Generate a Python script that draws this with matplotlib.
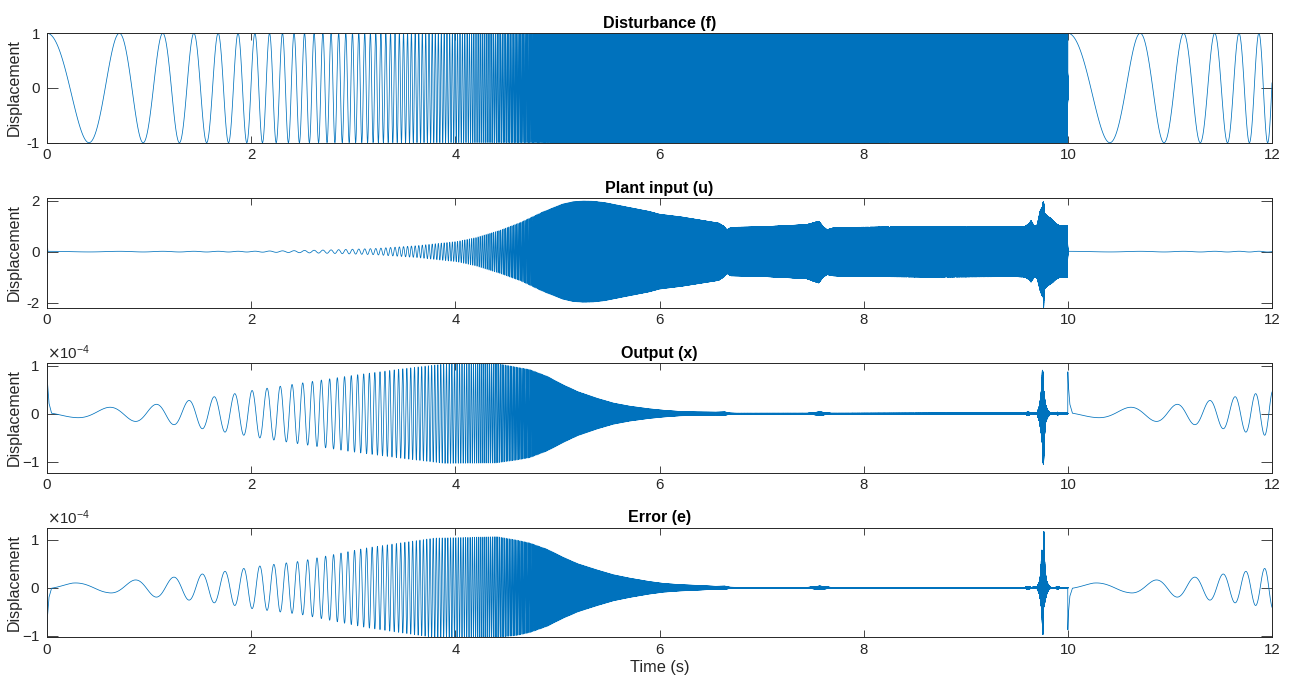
import numpy as np
import matplotlib
matplotlib.use("Agg")
import matplotlib.pyplot as plt
from matplotlib.ticker import ScalarFormatter

plt.rcParams["agg.path.chunksize"] = 20000
plt.rcParams["path.simplify"] = False
plt.rcParams["font.family"] = ["Liberation Sans", "DejaVu Sans"]
plt.rcParams["axes.unicode_minus"] = False

# log sine sweep used as the disturbance (restarts every 10 s)
fs = 20000
t_end = 12.0
sweep_period = 10.0
f_start, f_stop = 1.0, 1.0e4

titles = ["Disturbance (f)", "Plant input (u)", "Output (x)", "Error (e)"]

# plant input envelope (upper / lower magnitude), time within sweep
u_knot_t = [0.0, 0.02, 2.0, 2.4, 2.81, 3.21, 3.62, 4.02, 4.2, 4.44, 4.64, 4.85, 5.05, 5.15,
            5.25, 5.35, 5.46, 5.66, 5.9, 6.0, 6.22, 6.58, 6.63, 6.66, 6.7, 7.03, 7.44, 7.52,
            7.56, 7.6, 7.64, 7.7, 7.84, 8.66, 9.48, 9.58, 9.62, 9.64, 9.67, 9.7, 9.73, 9.755,
            9.763, 9.767, 9.775, 9.8, 9.84, 9.88, 9.92, 9.998, 9.9999]
u_hi = [0.012, 0.012, 0.015, 0.035, 0.07, 0.12, 0.23, 0.4, 0.55, 0.84, 1.15, 1.55, 1.87, 1.96,
        1.99, 1.98, 1.93, 1.77, 1.58, 1.47, 1.36, 1.12, 1.0, 0.86, 0.95, 0.98, 1.06, 1.15,
        1.2, 1.0, 0.86, 0.93, 0.95, 0.99, 0.97, 0.99, 1.1, 1.22, 1.0, 1.05, 1.62, 1.79,
        2.1, 1.6, 1.5, 1.4, 1.29, 1.11, 1.02, 1.02, 0.012]
u_lo = [0.012, 0.012, 0.015, 0.035, 0.07, 0.12, 0.23, 0.4, 0.56, 0.86, 1.15, 1.55, 1.87, 1.96,
        1.99, 1.98, 1.93, 1.77, 1.58, 1.47, 1.36, 1.13, 1.0, 0.86, 0.95, 0.98, 1.06, 1.18,
        1.23, 1.02, 0.9, 0.95, 0.97, 1.0, 0.98, 1.0, 1.1, 1.2, 1.0, 1.05, 1.55, 1.8,
        2.2, 1.6, 1.45, 1.35, 1.25, 1.1, 1.02, 1.02, 0.012]
u_phase = 0.0
u_mid_t = [0.0, 0.002, 0.004, 0.008]
u_mid_v = [1.0, -0.5, 0.3, 0.0]

# output envelope, units of 1e-4
x_knot_t = [0.0, 0.05, 0.26, 0.59, 0.85, 1.05, 1.24, 1.41, 1.63, 1.85, 2.0, 2.5, 3.0, 3.5,
            3.9, 4.4, 4.6, 4.73, 4.9, 5.06, 5.2, 5.39, 5.55, 5.71, 5.9, 6.04, 6.2, 6.36,
            6.55, 6.64, 6.69, 6.75, 7.45, 7.57, 7.68, 9.58, 9.6, 9.62, 9.64, 9.7, 9.72,
            9.735, 9.745, 9.752, 9.76, 9.768, 9.78, 9.8, 9.83, 9.88, 9.9, 9.92, 9.9999]
x_hi = [0.03, 0.06, 0.08, 0.13, 0.16, 0.19, 0.23, 0.28, 0.35, 0.42, 0.48, 0.64, 0.8, 0.94,
        1.04, 1.05, 0.97, 0.92, 0.78, 0.6, 0.46, 0.32, 0.22, 0.155, 0.1, 0.07, 0.045, 0.035,
        0.03, 0.035, 0.012, 0.008, 0.008, 0.035, 0.008, 0.008, 0.03, 0.03, 0.008, 0.02, 0.15,
        0.35, 0.6, 1.0, 0.6, 0.4, 0.2, 0.08, 0.01, 0.008, 0.03, 0.008, 0.008]
x_lo = [0.03, 0.06, 0.08, 0.13, 0.16, 0.19, 0.23, 0.28, 0.35, 0.42, 0.48, 0.64, 0.8, 0.94,
        1.04, 1.03, 0.97, 0.92, 0.78, 0.6, 0.46, 0.32, 0.22, 0.155, 0.1, 0.07, 0.045, 0.035,
        0.03, 0.035, 0.012, 0.008, 0.008, 0.035, 0.008, 0.008, 0.03, 0.03, 0.008, 0.02, 0.15,
        0.35, 0.5, 0.7, 1.23, 0.6, 0.2, 0.08, 0.01, 0.008, 0.03, 0.008, 0.008]
x_phase = 0.18
x_mid_t = [0.0, 0.006, 0.02, 0.045, 9.999, 10.0, 10.006, 10.02, 10.045]
x_mid_v = [0.92, 0.6, 0.2, 0.0, 0.0, 0.86, 0.55, 0.18, 0.0]

# error envelope, units of 1e-4
e_knot_t = [0.0, 0.05, 0.25, 0.59, 0.85, 1.05, 1.24, 1.41, 1.63, 1.85, 2.0, 2.48, 2.81, 3.14,
            3.46, 3.79, 4.41, 4.6, 4.73, 4.9, 5.06, 5.2, 5.39, 5.55, 5.71, 5.9, 6.04, 6.2,
            6.36, 6.55, 6.64, 6.69, 6.75, 7.45, 7.57, 7.68, 9.58, 9.6, 9.62, 9.64, 9.7, 9.72,
            9.735, 9.745, 9.755, 9.765, 9.775, 9.79, 9.81, 9.83, 9.88, 9.9, 9.92, 9.9999]
e_hi = [0.03, 0.06, 0.1, 0.1, 0.16, 0.19, 0.22, 0.26, 0.31, 0.37, 0.43, 0.55, 0.69, 0.83,
        0.93, 1.03, 1.06, 0.99, 0.93, 0.8, 0.63, 0.5, 0.37, 0.27, 0.2, 0.13, 0.09, 0.065,
        0.05, 0.03, 0.035, 0.012, 0.008, 0.008, 0.035, 0.008, 0.008, 0.03, 0.03, 0.008, 0.02,
        0.12, 0.3, 0.8, 0.6, 1.24, 0.4, 0.15, 0.05, 0.01, 0.008, 0.03, 0.008, 0.008]
e_lo = [0.03, 0.06, 0.1, 0.1, 0.16, 0.19, 0.22, 0.26, 0.31, 0.37, 0.43, 0.55, 0.69, 0.83,
        0.93, 1.03, 1.03, 0.99, 0.93, 0.8, 0.63, 0.5, 0.37, 0.27, 0.2, 0.13, 0.09, 0.065,
        0.05, 0.03, 0.035, 0.012, 0.008, 0.008, 0.035, 0.008, 0.008, 0.03, 0.03, 0.008, 0.02,
        0.12, 0.3, 0.5, 0.98, 0.4, 0.3, 0.15, 0.05, 0.01, 0.008, 0.03, 0.008, 0.008]
e_phase = 0.68
e_mid_t = [0.0, 0.006, 0.02, 0.045, 9.999, 10.0, 10.006, 10.02, 10.045]
e_mid_v = [-0.89, -0.55, -0.18, 0.0, 0.0, -0.86, -0.5, -0.16, 0.0]

y_limits = [(-1.0, 1.0), (-2.2, 2.1), (-1.23e-4, 1.055e-4), (-1.03e-4, 1.24e-4)]
y_ticks = [[-1, 0, 1], [-2, 0, 2], [-1e-4, 0, 1e-4], [-1e-4, 0, 1e-4]]
x_ticks = [0, 2, 4, 6, 8, 10, 12]

# --- build the time series ---
t = np.arange(0, int(round(t_end * fs)) + 1) / fs
tau = np.mod(t, sweep_period)
k = np.log(f_stop / f_start) / sweep_period
phase = f_start * (np.exp(k * tau) - 1) / k


def band(knot_t, hi, lo, offset, mid_t, mid_v, scale=1.0):
    hi_i = np.interp(tau, knot_t, hi)
    lo_i = np.interp(tau, knot_t, lo)
    centre = (hi_i - lo_i) / 2 + np.interp(t, mid_t, mid_v)
    return scale * (centre + (hi_i + lo_i) / 2 * np.cos(2 * np.pi * (phase + offset)))


f_sig = np.cos(2 * np.pi * phase)
u_sig = band(u_knot_t, u_hi, u_lo, u_phase, u_mid_t, u_mid_v)
x_sig = band(x_knot_t, x_hi, x_lo, x_phase, x_mid_t, x_mid_v, 1e-4)
e_sig = band(e_knot_t, e_hi, e_lo, e_phase, e_mid_t, e_mid_v, 1e-4)
signals = [f_sig, u_sig, x_sig, e_sig]

# --- figure ---
fig = plt.figure(figsize=(12.91, 6.86), dpi=100)
dark = "#262626"
bottoms = [0.792, 0.5516, 0.3112, 0.0708]

for i in range(4):
    ax = fig.add_axes([0.0364, bottoms[i], 0.9489, 0.1595])
    ax.plot(t, signals[i], color="#0072BD", linewidth=0.55)
    ax.set_xlim(0, 12)
    ax.set_ylim(*y_limits[i])
    ax.set_xticks(x_ticks)
    ax.set_yticks(y_ticks[i])
    ax.set_title(titles[i], fontsize=11.5, fontweight="bold", pad=4)
    ax.set_ylabel("Displacement", fontsize=11.5, color=dark)
    ax.yaxis.set_label_coords(-0.0205, 0.5)
    ax.tick_params(direction="in", top=True, right=True, labelsize=10.8,
                   colors=dark, width=0.6)
    ax.tick_params(axis="x", length=5, pad=4)
    ax.tick_params(axis="y", length=8, pad=5)
    for sp in ax.spines.values():
        sp.set_color(dark)
        sp.set_linewidth(0.7)
    if i >= 2:
        fmt = ScalarFormatter(useMathText=True)
        fmt.set_powerlimits((0, 0))
        ax.yaxis.set_major_formatter(fmt)
        ax.yaxis.get_offset_text().set_fontsize(10.8)
        ax.yaxis.get_offset_text().set_color(dark)
    if i == 3:
        ax.set_xlabel("Time (s)", fontsize=11.8, color=dark, labelpad=2)

fig.savefig("out.png", dpi=100)
